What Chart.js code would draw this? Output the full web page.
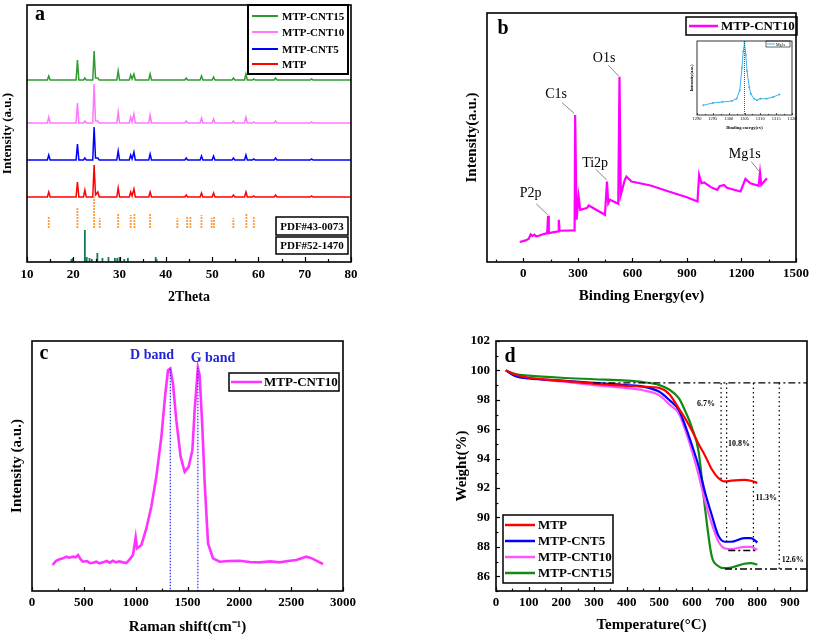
<!DOCTYPE html>
<html lang="en">
<head>
<meta charset="UTF-8">
<title>MTP-CNT characterization</title>
<script src="https://cdn.jsdelivr.net/npm/chart.js"></script>
<style>
  body { margin: 0; background: #fff; width: 813px; height: 637px; position: relative; overflow: hidden; }
  canvas { position: absolute; }
</style>
</head>
<body>
<canvas id="xrd" width="400" height="310" style="left:0;top:0"></canvas>
<canvas id="xps" width="413" height="310" style="left:400px;top:0"></canvas>
<canvas id="mg" width="112" height="98" style="left:686px;top:36px"></canvas>
<canvas id="raman" width="400" height="327" style="left:0;top:310px"></canvas>
<canvas id="tga" width="413" height="327" style="left:400px;top:310px"></canvas>
<script>
// ---- (a) XRD: 2theta samples and peak intensity above each baseline ----
const xrdTheta = [10, 14.4, 14.7, 15.0, 20.6, 20.9, 21.2, 22.2, 22.5, 22.8, 24.2, 24.5, 24.8, 25.3, 25.6,
  29.4, 29.7, 30.0, 32.1, 32.4, 32.7, 33.1, 33.4, 36.3, 36.6, 36.9, 44.1, 44.4, 44.7, 47.4, 47.7, 48.0,
  50.0, 50.3, 50.6, 54.3, 54.6, 54.9, 57.0, 57.3, 57.6, 58.7, 59.0, 59.3, 63.4, 63.7, 64.0, 71.2, 71.5, 71.8, 80];
const xrdMTP   = [0, 0,5,0, 0,15,0, 0,7,0, 0,32,2, 5,0, 0,9,0, 0,5,1, 8,0, 0,5,0, 0,2,0, 0,4,0, 0,4,0, 0,2,0, 0,5,0, 0,1,0, 0,2,0, 0,1,0, 0];
const xrdCNT5  = [0, 0,5,0, 0,16,0, 0,2,0, 0,33,2, 2,0, 0,9,0, 0,5,1, 8,0, 0,6,0, 0,2,0, 0,4,0, 0,4,0, 0,2,0, 0,5,0, 0,1,0, 0,2,0, 0,1,0, 0];
const xrdCNT10 = [0, 0,6,0, 0,20,0, 0,2,0, 0,39,2, 2,0, 0,11,0, 0,6,1, 9,0, 0,8,0, 0,2,0, 0,5,0, 0,4,0, 0,2,0, 0,6,0, 0,1,0, 0,2,0, 0,1,0, 0];
const xrdCNT15 = [0, 0,4,0, 0,20,0, 0,2,0, 0,29,2, 2,0, 0,9,0, 0,5,1, 6,0, 0,6,0, 0,2,0, 0,4,0, 0,3,0, 0,2,0, 0,6,0, 0,1,0, 0,2,0, 0,1,0, 0];
const pdf43Pos = [14.7, 20.9, 24.5, 25.7, 29.7, 32.4, 33.2, 36.6, 42.5, 44.6, 45.3, 47.7, 49.9, 50.4, 54.6, 57.4, 59.0];
const pdf43H   = [11, 21, 31, 10, 14, 13, 15, 14, 10, 11, 11, 13, 10, 12, 10, 14, 11];
const pdf52Pos = [19.6, 19.9, 22.5, 22.9, 23.5, 24.0, 25.2, 26.3, 27.6, 29.0, 29.5, 30.0, 31.0, 31.8, 37.8, 38.0];
const pdf52H   = [3, 4, 32, 5, 4, 3, 9, 4, 5, 4, 4, 5, 3, 4, 5, 3];

// ---- (b) XPS survey of MTP-CNT10 ----
const xpsE = [-20, 13, 30, 40, 49, 60, 70, 85, 100, 131, 136, 140, 191, 195, 199, 282, 285, 293, 304, 313,
  349, 360, 449, 460, 467, 476, 522, 529, 536, 558, 567, 595, 700, 800, 900, 958, 967, 980, 995, 1030,
  1045, 1067, 1080, 1104, 1120, 1195, 1222, 1249, 1294, 1302, 1309, 1340];
const xpsI = [60, 65, 70, 83, 78, 82, 77, 79, 82, 87, 139, 87, 92, 127, 94, 95, 442, 127, 197, 157,
  162, 170, 142, 242, 177, 187, 175, 557, 202, 247, 257, 242, 230, 212, 195, 182, 262, 237, 239, 226,
  222, 217, 228, 232, 223, 212, 250, 237, 229, 269, 232, 252];
// inset: Mg1s
const mgE = [1292, 1295, 1298, 1301, 1302.5, 1303.5, 1304.2, 1304.6, 1305, 1305.4, 1305.8, 1306.5, 1307, 1308, 1309, 1310, 1312, 1314, 1316];
const mgI = [30, 37, 40, 43, 50, 75, 145, 195, 222, 185, 135, 85, 65, 50, 45, 50, 50, 55, 63];

// ---- (c) Raman ----
const ramanX = [199, 230, 260, 299, 330, 360, 396, 420, 444, 470, 492, 530, 560, 588, 620, 650, 685, 720, 750, 781,
  810, 840, 878, 910, 942, 974, 1000, 1013, 1055, 1103, 1151, 1199, 1248, 1286, 1312, 1334, 1360, 1392, 1434, 1473,
  1511, 1547, 1569, 1600, 1617, 1643, 1666, 1698, 1746, 1810, 1900, 2003, 2100, 2196, 2300, 2389, 2470, 2550, 2646, 2700,
  2742, 2807];
const ramanY = [78, 90, 95, 98, 103, 100, 103, 101, 108, 95, 88, 90, 84, 85, 88, 83, 86, 90, 85, 91,
  86, 89, 86, 84, 95, 108, 161, 128, 138, 188, 253, 343, 463, 593, 663, 668, 623, 513, 403, 358,
  373, 423, 543, 671, 648, 493, 323, 143, 98, 88, 90, 91, 87, 86, 89, 86, 90, 93, 103, 98,
  91, 81];

// ---- (d) TGA ----
const tgaT     = [30, 60, 100, 200, 300, 400, 450, 500, 530, 560, 580, 600, 620, 640, 660, 680, 700, 720, 760, 780, 800];
const tgaMTP   = [100, 99.7, 99.5, 99.3, 99.1, 98.95, 98.9, 98.8, 98.4, 97.4, 96.7, 95.9, 95.0, 94.2, 93.3, 92.7, 92.45, 92.5, 92.55, 92.5, 92.35];
const tgaCNT5  = [100, 99.6, 99.45, 99.3, 99.15, 99.0, 98.9, 98.55, 98.0, 97.3, 96.2, 94.9, 93.5, 91.7, 90.2, 88.8, 88.35, 88.35, 88.6, 88.6, 88.3];
const tgaCNT10 = [100, 99.65, 99.5, 99.25, 99.0, 98.8, 98.65, 98.3, 97.7, 97.05, 95.9, 94.5, 92.9, 91.1, 89.6, 88.4, 87.9, 87.85, 88.0, 88.0, 87.8];
const tgaCNT15 = [100, 99.75, 99.65, 99.5, 99.4, 99.3, 99.2, 99.0, 98.7, 98.1, 97.2, 96.1, 94.5, 90.6, 87.4, 86.7, 86.55, 86.6, 86.85, 86.9, 86.8];

Chart.defaults.font.family = '"Liberation Serif", "Times New Roman", serif';
Chart.defaults.color = '#000';

const SERIF = '"Liberation Serif", serif';

// axis with fixed thickness so the plot areas land where they should
function axis(o) {
  return {
    type: 'linear', min: o.min, max: o.max,
    grid: { display: false, drawTicks: false },
    border: { display: false },
    ticks: {
      display: !!o.step, stepSize: o.step, includeBounds: false, padding: o.pad || 4,
      maxRotation: 0, autoSkip: false, color: '#000',
      font: { size: o.fs || 13, weight: o.fw || 'bold' },
      callback: v => String(v)
    },
    title: {
      display: !!o.title, text: o.title, padding: 0, color: '#000',
      font: { size: o.tfs || 15, weight: 'bold' }
    },
    afterFit: s => { if (s.isHorizontal()) s.height = o.size; else s.width = o.size; }
  };
}

function pts(xs, ys, off) {
  return xs.map((x, i) => ({ x: x, y: ys[i] + (off || 0) }));
}
function sticks(pos, h, base) {
  const out = [];
  pos.forEach((p, i) => { out.push({ x: p, y: base }, { x: p, y: base + h[i] }, { x: p, y: null }); });
  return out;
}
function line(label, data, color, width, extra) {
  return Object.assign({ label: label, data: data, borderColor: color, backgroundColor: color,
    borderWidth: width, pointRadius: 0, tension: 0, fill: false }, extra || {});
}

// frame, inward ticks, notes, legends
const deco = {
  id: 'deco',
  afterDatasetsDraw(chart, args, o) {
    const { ctx, chartArea: a } = chart;
    const x = chart.scales.x, y = chart.scales.y;
    ctx.save();
    (o.segs || []).forEach(s => {
      ctx.beginPath();
      ctx.setLineDash(s.dash || []);
      ctx.strokeStyle = s.color || '#000';
      ctx.lineWidth = s.width || 1;
      ctx.moveTo(x.getPixelForValue(s.x1), y.getPixelForValue(s.y1));
      ctx.lineTo(x.getPixelForValue(s.x2), y.getPixelForValue(s.y2));
      ctx.stroke();
    });
    ctx.setLineDash([]);
    (o.boxes || []).forEach(b => {
      ctx.fillStyle = '#fff';
      ctx.fillRect(b.x, b.y, b.w, b.h);
      ctx.strokeStyle = '#000';
      ctx.lineWidth = b.lw || 1.5;
      ctx.strokeRect(b.x, b.y, b.w, b.h);
      if (b.t) {
        ctx.fillStyle = '#000';
        ctx.font = b.font;
        ctx.textAlign = 'center';
        ctx.textBaseline = 'middle';
        ctx.fillText(b.t, b.x + b.w / 2, b.y + b.h / 2 + 1);
      }
    });
    if (o.legend) {
      const L = o.legend;
      ctx.fillStyle = '#fff';
      ctx.fillRect(L.x, L.y, L.w, L.h);
      ctx.strokeStyle = '#000';
      ctx.lineWidth = L.lw || 1.5;
      ctx.strokeRect(L.x, L.y, L.w, L.h);
      ctx.font = L.font;
      ctx.textAlign = 'left';
      ctx.textBaseline = 'middle';
      L.items.forEach((idx, k) => {
        const ds = chart.data.datasets[idx];
        const ry = L.rows[k];
        ctx.strokeStyle = ds.borderColor;
        ctx.lineWidth = L.sw || 2.5;
        ctx.beginPath();
        ctx.moveTo(L.x1, ry);
        ctx.lineTo(L.x2, ry);
        ctx.stroke();
        ctx.fillStyle = '#000';
        ctx.fillText(ds.label, L.tx, ry + 1);
      });
    }
    (o.texts || []).forEach(t => {
      ctx.font = t.font;
      ctx.fillStyle = t.color || '#000';
      ctx.textAlign = t.align || 'center';
      ctx.textBaseline = 'middle';
      const px = t.px ? t.x : x.getPixelForValue(t.x);
      const py = t.px ? t.y : y.getPixelForValue(t.y);
      ctx.fillText(t.t, px, py);
    });
    // inward ticks
    ctx.strokeStyle = '#000';
    ctx.lineWidth = o.tw || 1.2;
    const inTicks = (sc, major, minor, len, horiz) => {
      const start = Math.ceil(sc.min / minor - 1e-9);
      for (let i = start; i * minor <= sc.max + 1e-9; i++) {
        const v = i * minor;
        const isMajor = Math.abs(v / major - Math.round(v / major)) < 1e-6;
        const l = isMajor ? len : len * 0.6;
        const p = Math.round(sc.getPixelForValue(v)) + 0.5;
        ctx.beginPath();
        if (horiz) { ctx.moveTo(p, a.bottom); ctx.lineTo(p, a.bottom - l); }
        else { ctx.moveTo(a.left, p); ctx.lineTo(a.left + l, p); }
        ctx.stroke();
      }
    };
    if (o.xt) inTicks(x, o.xt[0], o.xt[1], o.xt[2], true);
    if (o.yt) inTicks(y, o.yt[0], o.yt[1], o.yt[2], false);
    ctx.lineWidth = o.frame || 1.6;
    ctx.strokeRect(a.left, a.top, a.right - a.left, a.bottom - a.top);
    ctx.restore();
  }
};

const common = { responsive: false, animation: false, events: [] };

// (a) XRD
new Chart(document.getElementById('xrd'), {
  type: 'line',
  data: { datasets: [
    line('MTP', pts(xrdTheta, xrdMTP, 65), '#ff0000', 1.5),
    line('MTP-CNT5', pts(xrdTheta, xrdCNT5, 102), '#0000ff', 1.5),
    line('MTP-CNT10', pts(xrdTheta, xrdCNT10, 139), '#ff77ff', 1.5),
    line('MTP-CNT15', pts(xrdTheta, xrdCNT15, 182), '#2f9a2f', 1.5),
    line('PDF#43-0073', sticks(pdf43Pos, pdf43H, 34), '#ff9a3c', 1.8, { borderDash: [2, 1], spanGaps: false }),
    line('PDF#52-1470', sticks(pdf52Pos, pdf52H, 0), '#127a5f', 1.8, { spanGaps: false })
  ] },
  options: Object.assign({}, common, {
    layout: { padding: { left: 0, top: 5, right: 49, bottom: 4 } },
    scales: {
      x: axis({ min: 10, max: 80, step: 10, title: '2Theta', tfs: 14, size: 44, pad: 5 }),
      y: axis({ min: 0, max: 257, title: 'Intensity (a.u.)', tfs: 13, size: 27 })
    },
    plugins: {
      legend: { display: false }, tooltip: { enabled: false },
      deco: {
        xt: [10, 5, 5],
        legend: { x: 248, y: 5, w: 100, h: 69, lw: 2, rows: [16, 32, 49, 64], x1: 252, x2: 278, tx: 282,
          items: [3, 2, 1, 0], font: 'bold 11px ' + SERIF, sw: 2 },
        boxes: [
          { x: 276, y: 217, w: 72, h: 18, t: 'PDF#43-0073', font: 'bold 11px ' + SERIF },
          { x: 276, y: 237, w: 72, h: 17, t: 'PDF#52-1470', font: 'bold 11px ' + SERIF }
        ],
        texts: [{ t: 'a', x: 40, y: 15, px: true, font: 'bold 20px ' + SERIF }]
      }
    }
  }),
  plugins: [deco]
});

// (b) XPS survey
new Chart(document.getElementById('xps'), {
  type: 'line',
  data: { datasets: [ line('MTP-CNT10', pts(xpsE, xpsI), '#ff00ff', 2.2) ] },
  options: Object.assign({}, common, {
    layout: { padding: { left: 63, top: 13, right: 14, bottom: 5 } },
    scales: {
      x: axis({ min: -200, max: 1500, step: 300, title: 'Binding Energy(ev)', size: 43, pad: 4 }),
      y: axis({ min: 0, max: 749, title: 'Intensity(a.u.)', size: 24 })
    },
    plugins: {
      legend: { display: false }, tooltip: { enabled: false },
      deco: {
        xt: [300, 150, 4],
        segs: [
          { x1: 71, y1: 175, x2: 134, y2: 142, color: '#888', width: 1 },
          { x1: 213, y1: 479, x2: 280, y2: 447, color: '#888', width: 1 },
          { x1: 398, y1: 279, x2: 458, y2: 247, color: '#888', width: 1 },
          { x1: 467, y1: 592, x2: 525, y2: 559, color: '#888', width: 1 },
          { x1: 1254, y1: 302, x2: 1298, y2: 272, color: '#888', width: 1 }
        ],
        legend: { x: 286, y: 17, w: 111, h: 18, rows: [26], x1: 289, x2: 318, tx: 321,
          items: [0], font: 'bold 13px ' + SERIF, sw: 2.5 },
        texts: [
          { t: 'b', x: 103, y: 29, px: true, font: 'bold 20px ' + SERIF },
          { t: 'P2p', x: 40, y: 207, font: '14px ' + SERIF },
          { t: 'C1s', x: 180, y: 504, font: '14px ' + SERIF },
          { t: 'Ti2p', x: 395, y: 297, font: '14px ' + SERIF },
          { t: 'O1s', x: 444, y: 612, font: '14px ' + SERIF },
          { t: 'Mg1s', x: 1218, y: 324, font: '14px ' + SERIF }
        ]
      }
    }
  }),
  plugins: [deco]
});

// (b) inset Mg1s
new Chart(document.getElementById('mg'), {
  type: 'line',
  data: { datasets: [ line('Mg1s', pts(mgE, mgI), '#3fb3e6', 1, { pointRadius: 0.6 }) ] },
  options: Object.assign({}, common, {
    layout: { padding: { left: 3, top: 3, right: 6, bottom: 3 } },
    scales: {
      x: axis({ min: 1290, max: 1320, step: 5, title: 'Binding energy(ev)', fs: 4.5, fw: 'normal', tfs: 4.5, size: 16, pad: 1.3 }),
      y: axis({ min: 0, max: 227, title: 'Intensity(a.u.)', tfs: 4.5, size: 8 })
    },
    plugins: {
      legend: { display: false }, tooltip: { enabled: false },
      deco: {
        frame: 0.8, tw: 0.6,
        xt: [5, 2.5, 2],
        segs: [{ x1: 1305, y1: 227, x2: 1305, y2: 0, color: '#4b4bd0', width: 1, dash: [1, 1] }],
        legend: { x: 80, y: 5, w: 24, h: 6, lw: 0.6, rows: [8], x1: 81, x2: 89, tx: 90,
          items: [0], font: '4px ' + SERIF, sw: 1 }
      }
    }
  }),
  plugins: [deco]
});

// (c) Raman
new Chart(document.getElementById('raman'), {
  type: 'line',
  data: { datasets: [ line('MTP-CNT10', pts(ramanX, ramanY), '#ff33ff', 2.6) ] },
  options: Object.assign({}, common, {
    layout: { padding: { left: 8, top: 31, right: 57, bottom: 1 } },
    scales: {
      x: axis({ min: 0, max: 3000, step: 500, title: 'Raman shift(cm\u207B\u00B9)', size: 45, pad: 4 }),
      y: axis({ min: 0, max: 751, title: 'Intensity (a.u.)', size: 24 })
    },
    plugins: {
      legend: { display: false }, tooltip: { enabled: false },
      deco: {
        xt: [500, 250, 4],
        segs: [
          { x1: 1334, y1: 668, x2: 1334, y2: 0, color: '#2b2bff', width: 1.2, dash: [1.5, 1.5] },
          { x1: 1600, y1: 671, x2: 1600, y2: 0, color: '#2b2bff', width: 1.2, dash: [1.5, 1.5] }
        ],
        legend: { x: 229, y: 63, w: 110, h: 18, rows: [72], x1: 231, x2: 262, tx: 264,
          items: [0], font: 'bold 13px ' + SERIF, sw: 2.5 },
        texts: [
          { t: 'c', x: 44, y: 44, px: true, font: 'bold 20px ' + SERIF },
          { t: 'D band', x: 152, y: 45, px: true, font: 'bold 14px ' + SERIF, color: '#2424d8' },
          { t: 'G band', x: 213, y: 48, px: true, font: 'bold 14px ' + SERIF, color: '#2424d8' }
        ]
      }
    }
  }),
  plugins: [deco]
});

// (d) TGA
const smooth = { cubicInterpolationMode: 'monotone' };
new Chart(document.getElementById('tga'), {
  type: 'line',
  data: { datasets: [
    line('MTP', pts(tgaT, tgaMTP), '#ff0000', 2.2, smooth),
    line('MTP-CNT5', pts(tgaT, tgaCNT5), '#0000ff', 2.2, smooth),
    line('MTP-CNT10', pts(tgaT, tgaCNT10), '#ff55ff', 2.2, smooth),
    line('MTP-CNT15', pts(tgaT, tgaCNT15), '#138a13', 2.2, smooth)
  ] },
  options: Object.assign({}, common, {
    layout: { padding: { left: 53, top: 31, right: 6, bottom: 3 } },
    scales: {
      x: axis({ min: 0, max: 952, step: 100, title: 'Temperature(\u00B0C)', size: 43, pad: 4 }),
      y: axis({ min: 85, max: 102, step: 2, title: 'Weight(%)', size: 43, pad: 6 })
    },
    plugins: {
      legend: { display: false }, tooltip: { enabled: false },
      deco: {
        xt: [100, 50, 4], yt: [2, 1, 4],
        segs: [
          { x1: 298, y1: 99.15, x2: 952, y2: 99.15, width: 1.4, dash: [7, 3, 2, 3] },
          { x1: 711, y1: 87.75, x2: 800, y2: 87.75, width: 1.4, dash: [7, 3, 2, 3] },
          { x1: 701, y1: 86.5, x2: 952, y2: 86.5, width: 1.4, dash: [7, 3, 2, 3] },
          { x1: 689, y1: 99.15, x2: 689, y2: 92.45, width: 1.2, dash: [1.5, 3] },
          { x1: 706, y1: 99.15, x2: 706, y2: 88.3, width: 1.2, dash: [1.5, 3] },
          { x1: 788, y1: 99.15, x2: 788, y2: 87.75, width: 1.2, dash: [1.5, 3] },
          { x1: 867, y1: 99.15, x2: 867, y2: 86.5, width: 1.2, dash: [1.5, 3] }
        ],
        legend: { x: 103, y: 205, w: 110, h: 68, rows: [215, 231, 247, 263], x1: 105, x2: 135, tx: 138,
          items: [0, 1, 2, 3], font: 'bold 13px ' + SERIF, sw: 2.5 },
        texts: [
          { t: 'd', x: 110, y: 47, px: true, font: 'bold 20px ' + SERIF },
          { t: '6.7%', x: 643, y: 97.7, font: 'bold 8px ' + SERIF },
          { t: '10.8%', x: 744, y: 95.0, font: 'bold 8px ' + SERIF },
          { t: '11.3%', x: 827, y: 91.35, font: 'bold 8px ' + SERIF },
          { t: '12.6%', x: 908, y: 87.1, font: 'bold 8px ' + SERIF }
        ]
      }
    }
  }),
  plugins: [deco]
});
</script>
</body>
</html>
